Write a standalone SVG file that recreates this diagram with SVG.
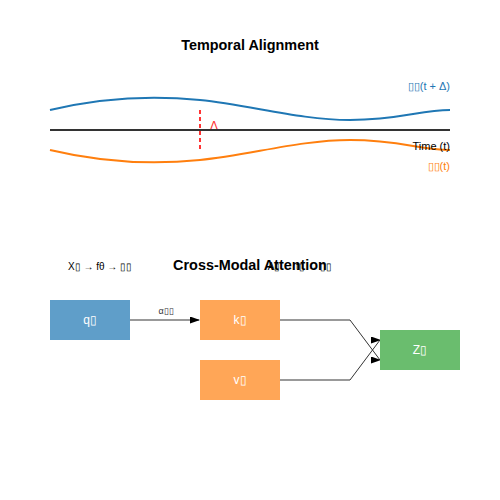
<svg xmlns="http://www.w3.org/2000/svg" width="500" height="500" viewBox="0 0 500 500">
<style>
text{font-family:"Liberation Sans",Arial,sans-serif}
.title{font-size:14.4px;font-weight:bold;fill:#000;text-anchor:middle}
.small{font-size:10px;fill:#000;text-anchor:middle}
.lbl{font-size:12px;fill:#fff;text-anchor:middle}
.hline{stroke:#777;stroke-width:1.5;fill:none}
.dline{stroke:#333;stroke-width:1;fill:none}
</style>
<defs>
<marker id="ah" markerWidth="10" markerHeight="7" refX="9" refY="3.5" orient="0" markerUnits="userSpaceOnUse">
<polygon points="0,0 10,3.5 0,7" fill="#000"/>
</marker>
</defs>
<rect width="500" height="500" fill="#fff"/>
<g id="temporal">
<text class="title" x="250" y="50">Temporal Alignment</text>
<path d="M50,110 C100,98 150,95 200,100 S300,120 350,120 S420,110 450,110" fill="none" stroke="#1f77b4" stroke-width="2"/>
<path d="M50,150 C100,162 150,165 200,160 S300,140 350,140 S420,150 450,150" fill="none" stroke="#ff7f0e" stroke-width="2"/>
<line x1="200" y1="110" x2="200" y2="150" stroke="#f33" stroke-width="2" stroke-dasharray="4,3"/>
<text x="210" y="130" font-size="12" fill="#f33" text-anchor="start">Δ</text>
<line x1="50" y1="130" x2="450" y2="130" stroke="#333" stroke-width="2"/>
<text x="450" y="90" font-size="11" fill="#1f77b4" text-anchor="end">▯▯(t + Δ)</text>
<text x="450" y="150" font-size="11" fill="#000" text-anchor="end">Time (t)</text>
<text x="450" y="170" font-size="11" fill="#ff7f0e" text-anchor="end">▯▯(t)</text>
</g>
<g id="attention-title">
<text class="small" x="100" y="270">X▯ → fθ → ▯▯</text>
<text class="small" x="300" y="270">A▯ → t▯ → ▯▯</text>
<text class="title" x="250" y="270">Cross-Modal Attention</text>
</g>
<g id="connectors">
<line class="hline" x1="130" y1="320" x2="199" y2="320" marker-end="url(#ah)"/>
<text x="166" y="314" font-size="9" fill="#333" text-anchor="middle">α▯▯</text>
<line class="hline" x1="280" y1="320" x2="350" y2="320"/>
<line class="hline" x1="280" y1="380" x2="350" y2="380"/>
<path class="dline" d="M350,320 L380,360" marker-end="url(#ah)"/>
<path class="dline" d="M350,380 L380,340" marker-end="url(#ah)"/>
</g>
<g id="node-q">
<rect x="50" y="300" width="80" height="40" fill="#5f9ec9"/>
<text class="lbl" x="90" y="324">q▯</text>
</g>
<g id="node-k">
<rect x="200" y="300" width="80" height="40" fill="#ffa657"/>
<text class="lbl" x="240" y="324">k▯</text>
</g>
<g id="node-v">
<rect x="200" y="360" width="80" height="40" fill="#ffa657"/>
<text class="lbl" x="240" y="384">v▯</text>
</g>
<g id="node-z">
<rect x="380" y="330" width="80" height="40" fill="#6abd6e"/>
<text class="lbl" x="420" y="354">Z▯</text>
</g>
</svg>
